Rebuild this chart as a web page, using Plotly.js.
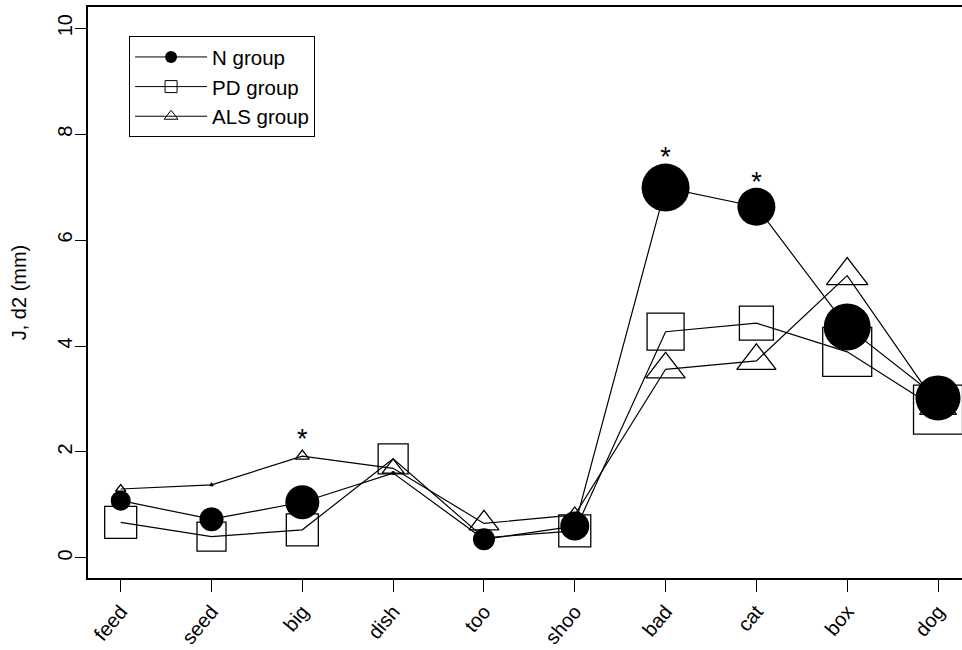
<!DOCTYPE html>
<html>
<head>
<meta charset="utf-8">
<script src="https://cdn.plot.ly/plotly-3.0.1.min.js"></script>
<style>html,body{margin:0;padding:0;background:#fff;}</style>
</head>
<body>
<div id="chart" style="width:962px;height:650px;"></div>
<script>
// Categories (words)
var categories = ['feed','seed','big','dish','too','shoo','bad','cat','box','dog'];
// Series values J, d2 (mm)
var nGroup   = [1.08, 0.73, 1.05, 1.60, 0.35, 0.60, 6.99, 6.63, 4.36, 3.02];
var pdGroup  = [0.67, 0.40, 0.53, 1.87, 0.38, 0.51, 4.27, 4.43, 3.89, 2.80];
var alsGroup = [1.30, 1.38, 1.92, 1.69, 0.65, 0.81, 3.56, 3.72, 5.33, 2.86];
// Marker sizes (encoded per point in the original)
var nSize   = [20, 24, 34, 4, 22, 29, 48, 38, 47, 45];
var pdSize  = [32, 29, 32, 30, 6, 32, 37, 34, 49, 49];
var alsSize = [9, 3, 12, 19, 26, 16, 34, 34, 36, 32];
// Significance markers
var starCats = ['big','bad','cat'];
var starVals = [2.2, 7.53, 7.05];
var yTicks = [0, 2, 4, 6, 8, 10];
var seriesNames = ['N group', 'PD group', 'ALS group'];

var xIdx = function(arr){ return arr.map(function(c){ return categories.indexOf(c) + 1; }); };
var xs = xIdx(categories);
var font = 'Liberation Sans, Arial, sans-serif';

var traces = [
  {x: xs, y: alsGroup, type: 'scatter', mode: 'lines+markers', showlegend: false,
   line: {color: '#000', width: 1.2},
   marker: {symbol: 'triangle-up-open', size: alsSize, opacity: 1, color: '#000', line: {width: 1.3, color: '#000'}}},
  {x: xs, y: pdGroup, type: 'scatter', mode: 'lines+markers', showlegend: false,
   line: {color: '#000', width: 1.2},
   marker: {symbol: 'square-open', size: pdSize, opacity: 1, color: '#000', line: {width: 1.3, color: '#000'}}},
  {x: xs, y: nGroup, type: 'scatter', mode: 'lines+markers', showlegend: false,
   line: {color: '#000', width: 1.2},
   marker: {symbol: 'circle', size: nSize, opacity: 1, color: '#000', line: {width: 0}}},
  {x: xIdx(starCats), y: starVals, type: 'scatter', mode: 'text', text: starCats.map(function(){return '*';}),
   textfont: {family: font, size: 27, color: '#000'}, textposition: 'middle center', showlegend: false, hoverinfo: 'skip'},
  // legend entries
  {x: [null], y: [null], type: 'scatter', mode: 'lines+markers', name: seriesNames[0],
   line: {color: '#000', width: 1}, marker: {symbol: 'circle', size: 12, color: '#000'}},
  {x: [null], y: [null], type: 'scatter', mode: 'lines+markers', name: seriesNames[1],
   line: {color: '#000', width: 1}, marker: {symbol: 'square-open', size: 12, color: '#000', line: {width: 1, color: '#000'}}},
  {x: [null], y: [null], type: 'scatter', mode: 'lines+markers', name: seriesNames[2],
   line: {color: '#000', width: 1}, marker: {symbol: 'triangle-up-open', size: 12, color: '#000', line: {width: 1, color: '#000'}}}
];

var layout = {
  width: 962, height: 650,
  margin: {l: 88, r: 0, t: 7, b: 72},
  paper_bgcolor: '#fff', plot_bgcolor: '#fff',
  font: {family: font, size: 20, color: '#000'},
  showlegend: true,
  legend: {x: 0.047, y: 0.949, xanchor: 'left', yanchor: 'top', bgcolor: '#fff',
           bordercolor: '#000', borderwidth: 1, font: {family: font, size: 20.5, color: '#000'},
           itemwidth: 72, tracegroupgap: 0},
  xaxis: {range: [0.64, 10.264], tickmode: 'array', tickvals: xs, ticktext: categories,
          tickangle: -50, ticks: 'outside', ticklen: 12, tickwidth: 1, tickcolor: '#000',
          showline: true, mirror: true, linewidth: 2, linecolor: '#000',
          showgrid: false, zeroline: false, tickfont: {family: font, size: 20, color: '#000'}},
  yaxis: {range: [-0.38, 10.4], tickmode: 'array', tickvals: yTicks, ticktext: yTicks.map(String),
          tickangle: -90, ticks: 'outside', ticklen: 11, tickwidth: 1, tickcolor: '#000',
          ticklabelstandoff: -5,
          showline: true, mirror: false, linewidth: 2, linecolor: '#000',
          showgrid: false, zeroline: false, tickfont: {family: font, size: 20, color: '#000'},
          title: {text: 'J, d2 (mm)', font: {family: font, size: 20, color: '#000'}, standoff: 22}}
};

Plotly.newPlot('chart', traces, layout, {displayModeBar: false, staticPlot: true});
</script>
</body>
</html>
